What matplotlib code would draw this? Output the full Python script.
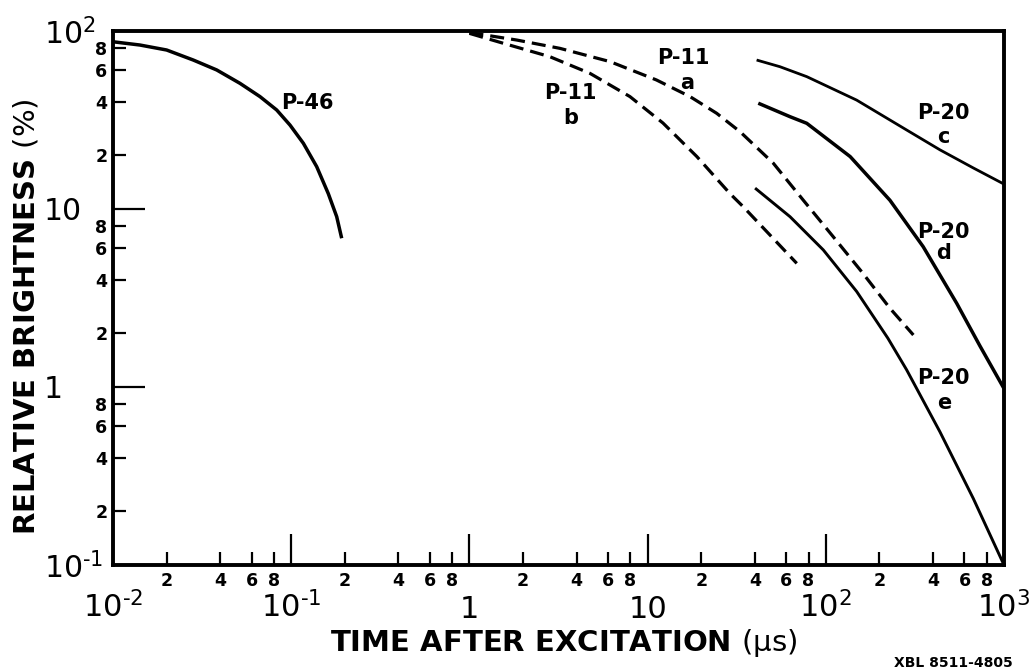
import matplotlib
matplotlib.use("Agg")
import matplotlib.pyplot as plt
from matplotlib.ticker import FixedLocator, FixedFormatter

plt.rcParams['font.family'] = ['DejaVu Sans']
plt.rcParams['mathtext.fontset'] = 'dejavusans'
plt.rcParams['mathtext.default'] = 'regular'

# ---------------- data ----------------
p46_t = [0.01, 0.01417, 0.0200, 0.0282, 0.0382, 0.0516, 0.0668, 0.0829, 0.0985,
         0.117, 0.139, 0.1615, 0.180, 0.192]
p46_b = [87.0, 83.4, 78.2, 68.7, 60.4, 50.8, 42.8, 36.0, 29.6,
         23.4, 17.3, 12.2, 9.06, 6.85]

p11a_t = [1.0, 1.84, 3.22, 6.15, 11.2, 17.3, 24.4, 33.0, 50.7, 74.8, 110, 159, 229, 310]
p11a_b = [98, 89, 79.9, 67.3, 53.1, 42.8, 34.5, 27.2, 18.1, 11.2, 6.99, 4.44, 2.77, 1.96]

p11b_t = [1.0, 1.55, 2.83, 4.75, 7.96, 12.2, 18.9, 29.0, 34.4, 68.7]
p11b_b = [97, 85.3, 71.7, 57.8, 42.8, 30.4, 19.7, 12.2, 10.3, 4.95]

p20c_t = [40.9, 55.3, 78.2, 149, 284, 437, 673, 1000]
p20c_b = [68.7, 63.0, 55.4, 40.9, 27.8, 21.5, 17.0, 13.8]

p20d_t = [41.8, 63.0, 78.2, 137, 229, 352, 543, 733, 1000]
p20d_b = [39.3, 33.0, 30.3, 19.7, 11.2, 6.14, 2.95, 1.70, 0.98]

p20e_t = [40.1, 63.0, 96.8, 149, 223, 284, 437, 673, 1000]
p20e_b = [13.1, 9.05, 5.89, 3.44, 1.88, 1.25, 0.56, 0.236, 0.1]

x_major = [1e-2, 1e-1, 1, 10, 1e2, 1e3]
x_major_labels = [r'$10^{\text{-}2}$', r'$10^{\text{-}1}$', '1', '10', r'$10^{2}$', r'$10^{3}$']
y_major = [1e-1, 1, 10, 1e2]
y_major_labels = [r'$10^{\text{-}1}$', '1', '10', r'$10^{2}$']
minor_mults = [2, 4, 6, 8]
x_decades = [1e-2, 1e-1, 1, 10, 100]
y_decades = [1e-1, 1, 10]

# ---------------- figure ----------------
fig = plt.figure(figsize=(10.34, 6.69), dpi=100)
ax = fig.add_axes([113/1034, 104/669, 891/1034, 534/669])
ax.set_xscale('log')
ax.set_yscale('log')

solid = dict(color='black', solid_capstyle='butt', solid_joinstyle='round')
ax.plot(p46_t, p46_b, lw=2.5, **solid)
ax.plot(p20c_t, p20c_b, lw=2.0, **solid)
ax.plot(p20d_t, p20d_b, lw=2.5, **solid)
ax.plot(p20e_t, p20e_b, lw=2.1, **solid)
ax.plot(p11a_t, p11a_b, lw=2.3, color='black', dashes=(4.4, 2.2))
ax.plot(p11b_t, p11b_b, lw=2.3, color='black', dashes=(4.4, 2.2))

ax.set_xlim(1e-2, 1e3)
ax.set_ylim(1e-1, 1e2)

for s in ax.spines.values():
    s.set_linewidth(2.8)

# ticks
x_minor = [m * d for d in x_decades for m in minor_mults]
y_minor = [m * d for d in y_decades for m in minor_mults]
ax.xaxis.set_major_locator(FixedLocator(x_major))
ax.xaxis.set_major_formatter(FixedFormatter(x_major_labels))
ax.xaxis.set_minor_locator(FixedLocator(x_minor))
ax.xaxis.set_minor_formatter(FixedFormatter([str(m) for d in x_decades for m in minor_mults]))
ax.yaxis.set_major_locator(FixedLocator(y_major))
ax.yaxis.set_major_formatter(FixedFormatter(y_major_labels))
ax.yaxis.set_minor_locator(FixedLocator(y_minor))
ax.yaxis.set_minor_formatter(FixedFormatter([str(m) for d in y_decades for m in minor_mults]))

ax.tick_params(which='both', direction='in', top=False, right=False, color='black')
ax.tick_params(axis='x', which='major', length=22, width=1.6, pad=38, labelsize=22)
ax.tick_params(axis='x', which='minor', length=9.5, width=1.6, pad=5, labelsize=12.5)
ax.tick_params(axis='y', which='major', length=23, width=1.6, pad=50, labelsize=21.5)
ax.tick_params(axis='y', which='minor', length=9.5, width=1.6, pad=4, labelsize=12.5)

for lab in ax.xaxis.get_majorticklabels():
    lab.set_verticalalignment('baseline')
for lab in ax.yaxis.get_majorticklabels():
    lab.set_horizontalalignment('left')
for lab in ax.xaxis.get_minorticklabels() + ax.yaxis.get_minorticklabels():
    lab.set_fontweight('bold')

ax.set_xlabel(r'TIME AFTER EXCITATION $\mathrm{(\mu s)}$', fontsize=21, fontweight='bold')
ax.set_ylabel(r'RELATIVE BRIGHTNESS $\mathrm{(\%)}$', fontsize=21, fontweight='bold')
ax.xaxis.set_label_coords(0.506, -0.117)
ax.yaxis.set_label_coords(-0.081, 0.465)
ax.xaxis.label.set_verticalalignment('top')

# curve labels
lab_kw = dict(fontsize=15, fontweight='bold', ha='center', va='center')
ax.text(0.123, 39.4, 'P-46', **lab_kw)
ax.text(15.9, 70.3, 'P-11', **lab_kw)
ax.text(16.6, 50.8, 'a', **lab_kw)
ax.text(3.67, 44.7, 'P-11', **lab_kw)
ax.text(3.7, 32.4, 'b', **lab_kw)
ax.text(456, 34.5, 'P-20', **lab_kw)
ax.text(456, 25.5, 'c', **lab_kw)
ax.text(456, 7.45, 'P-20', **lab_kw)
ax.text(456, 5.64, 'd', **lab_kw)
ax.text(456, 1.12, 'P-20', **lab_kw)
ax.text(462, 0.81, 'e', **lab_kw)

fig.text(1013/1034, 1 - 663/669, 'XBL 8511-4805', fontsize=10, fontweight='bold',
         ha='right', va='center')

fig.savefig('out.png', dpi=100)
